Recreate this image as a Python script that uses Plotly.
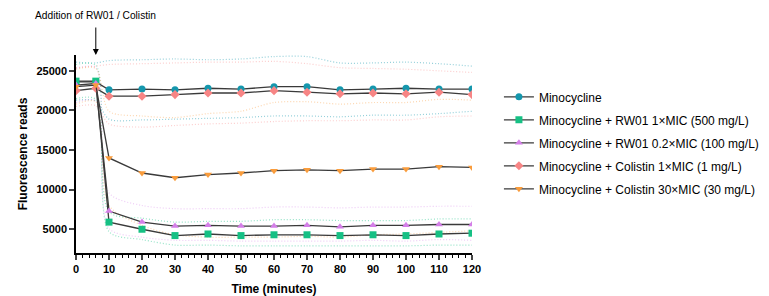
import plotly.graph_objects as go

time = [0, 6, 10, 20, 30, 40, 50, 60, 70, 80, 90, 100, 110, 120]

names = [
    "Minocycline",
    "Minocycline + RW01 1×MIC (500 mg/L)",
    "Minocycline + RW01 0.2×MIC (100 mg/L)",
    "Minocycline + Colistin 1×MIC (1 mg/L)",
    "Minocycline + Colistin 30×MIC (30 mg/L)",
]

mino_mean = [23600, 23600, 22600, 22700, 22600, 22800, 22700, 23000, 23000, 22600, 22700, 22800, 22700, 22700]
mino_up = [26100, 26000, 26300, 26400, 26500, 26400, 26500, 26800, 26800, 26000, 26000, 26100, 25900, 25600]
mino_lo = [21300, 21200, 18900, 18800, 18900, 19000, 19100, 19300, 19300, 19200, 19400, 19400, 19600, 19900]

rw1_mean = [23700, 23700, 5900, 5000, 4200, 4400, 4200, 4300, 4300, 4200, 4300, 4200, 4400, 4500]
rw1_up = [25800, 25700, 7200, 6400, 5900, 6000, 6000, 6200, 6200, 6100, 6100, 6100, 6300, 6300]
rw1_lo = [21500, 21400, 4700, 3700, 3000, 3000, 2900, 2900, 2900, 2900, 2900, 2900, 3000, 3000]

rw02_mean = [23200, 23400, 7300, 5900, 5400, 5500, 5400, 5400, 5500, 5300, 5500, 5500, 5600, 5600]
rw02_up = [25300, 25400, 9600, 8000, 7600, 7600, 7600, 7800, 7800, 7700, 7800, 7800, 7900, 7900]
rw02_lo = [21000, 21200, 5100, 4000, 3600, 3600, 3500, 3500, 3500, 3500, 3600, 3500, 3700, 3600]

col1_mean = [22500, 22800, 21800, 21800, 22000, 22200, 22200, 22500, 22300, 22100, 22200, 22100, 22300, 22000]
col1_up = [25400, 25600, 25800, 25900, 26000, 26100, 26100, 26200, 25900, 25400, 25300, 25200, 25000, 24800]
col1_lo = [20500, 20600, 18300, 17900, 18100, 18300, 18400, 18600, 18700, 18700, 18800, 18800, 19200, 19300]

col30_mean = [23000, 23200, 14000, 12100, 11500, 11900, 12100, 12400, 12500, 12400, 12600, 12600, 12900, 12800]
col30_up = [25200, 25300, 19900, 19300, 19100, 19600, 19900, 21000, 21100, 20800, 21000, 21000, 21400, 21300]
col30_lo = [20800, 21100, 8000, 5500, 4300, 4000, 4000, 4000, 4100, 4000, 4300, 4400, 4600, 4800]

y_ticks = [5000, 10000, 15000, 20000, 25000]
x_ticks = [0, 10, 20, 30, 40, 50, 60, 70, 80, 90, 100, 110, 120]

means = [mino_mean, rw1_mean, rw02_mean, col1_mean, col30_mean]
ups = [mino_up, rw1_up, rw02_up, col1_up, col30_up]
los = [mino_lo, rw1_lo, rw02_lo, col1_lo, col30_lo]

colors = ["#1597ad", "#16c084", "#d47fe8", "#f78585", "#f99c3c"]
band_colors = ["rgba(21,151,173,0.45)", "rgba(22,192,132,0.45)", "rgba(212,127,232,0.4)",
               "rgba(247,133,133,0.4)", "rgba(249,156,60,0.4)"]
symbols = ["circle", "square", "triangle-up", "diamond", "triangle-down"]

fig = go.Figure()

for i in range(5):
    for band in (ups[i], los[i]):
        fig.add_trace(go.Scatter(
            x=time, y=band, mode="lines", showlegend=False, hoverinfo="skip",
            line=dict(color=band_colors[i], width=1.2, dash="1px,2px", shape="spline", smoothing=0.8),
        ))

for i in range(5):
    fig.add_trace(go.Scatter(
        x=time, y=means[i], mode="lines+markers", name=names[i], legendgroup=f"g{i}",
        line=dict(color="#3a3a3a", width=1.3),
        marker=dict(color=colors[i], symbol=symbols[i], size=7, line=dict(width=0)),
    ))

fig.add_annotation(x=6, y=27000, xref="x", yref="y", ax=0, ay=-29, text="",
                   showarrow=True, arrowhead=2, arrowsize=1.2, arrowwidth=1, arrowcolor="black")
fig.add_annotation(x=6, y=(253 - 15) / 198, xref="x", yref="paper", text="Addition of RW01 / Colistin",
                   showarrow=False, font=dict(size=10.2, color="black", family="Arial"),
                   xanchor="center", yanchor="middle")

# page body adds an 8px offset, so the figure is sized/margined to compensate
fig.update_layout(
    width=761, height=288,
    margin=dict(l=68, r=297, t=47, b=43, autoexpand=False),
    plot_bgcolor="white", paper_bgcolor="white",
    font=dict(family="Arial", color="black"),
    legend=dict(x=1.068, y=0.862, xanchor="left", yanchor="top", traceorder="grouped",
                tracegroupgap=4, font=dict(size=12, family="Arial", color="black"),
                bgcolor="rgba(0,0,0,0)"),
    xaxis=dict(
        range=[0, 120], tickvals=x_ticks, ticks="outside", ticklen=5, tickwidth=1.5,
        showline=True, linecolor="black", linewidth=1.5, showgrid=False, zeroline=False,
        automargin=False,
        tickfont=dict(size=11, weight="bold"),
        minor=dict(dtick=2, ticks="outside", ticklen=3, tickwidth=1, tickcolor="black"),
        title=dict(text="Time (minutes)", font=dict(size=12, weight="bold"), standoff=11),
    ),
    yaxis=dict(
        range=[2000, 27000], tickvals=y_ticks, tickformat="d", ticks="outside", ticklen=5,
        tickwidth=1.5, showline=True, linecolor="black", linewidth=1.5, showgrid=False, zeroline=False,
        automargin=False,
        tickfont=dict(size=11, weight="bold"),
        title=dict(text="Fluorescence reads", font=dict(size=12, weight="bold"), standoff=6),
    ),
)

fig.write_html("out.html")
